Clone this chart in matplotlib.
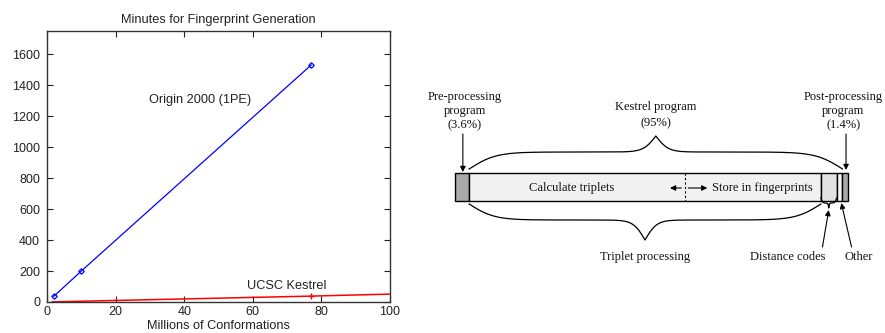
import numpy as np
import matplotlib
matplotlib.use('Agg')
import matplotlib.pyplot as plt

# left chart: minutes vs millions of conformations
conf_origin = [2, 10, 77]
min_origin = [37, 200, 1530]
conf_kestrel = [1.5, 10, 77, 100]
min_kestrel = [1, 5, 38, 51]

xticks = [0, 20, 40, 60, 80, 100]
yticks = [0, 200, 400, 600, 800, 1000, 1200, 1400, 1600]

# right diagram: share of run time (percent of bar)
seg_pct = [3.6, 89.5, 4.0, 1.5, 1.4]
seg_col = ['#a9a9a9', '#f1f1f1', '#e1e1e1', '#f6f6f6', '#a9a9a9']
split_pct = 58.5   # calculate / store boundary

sans = 'Liberation Sans'
serif = 'Liberation Serif'

fig = plt.figure(figsize=(8.85, 3.33), dpi=100)

ax = fig.add_axes([47/885, 31/333, 343/885, 271/333])
ax.plot(conf_origin, min_origin, color='blue', lw=0.9, marker='D', ms=2.8,
        mfc='none', mew=0.9)
ax.plot(conf_kestrel, min_kestrel, color='red', lw=1.1)
ax.plot(conf_kestrel[2:3], min_kestrel[2:3], color='red', marker='+', ms=4, lw=0)
ax.set_xlim(0, 100)
ax.set_ylim(0, 1750)
ax.set_xticks(xticks)
ax.set_yticks(yticks)
ax.tick_params(direction='in', length=4, width=0.8, top=True, right=True,
               labelsize=9, colors='#222222')
ax.tick_params(axis='x', pad=3)
ax.tick_params(axis='y', pad=5)
for lab in ax.get_xticklabels() + ax.get_yticklabels():
    lab.set_family(sans)
for s in ax.spines.values():
    s.set_linewidth(1.0)
    s.set_color('#333333')
ax.set_title('Minutes for Fingerprint Generation', fontsize=9.2, family=sans,
             color='#222222', pad=6)
ax.set_xlabel('Millions of Conformations', fontsize=9.2, family=sans,
              color='#222222', labelpad=1)
ax.text(44.6, 1303, 'Origin 2000 (1PE)', fontsize=9.2, family=sans, ha='center',
        va='center', color='#222222')
ax.text(70, 103, 'UCSC Kestrel', fontsize=9.2, family=sans, ha='center',
        va='center', color='#222222')

# right diagram, x in percent of the bar, y in pixel rows
ax2 = fig.add_axes([455/885, (333-265)/333, 393/885, 185/333])
ax2.set_xlim(0, 100)
ax2.set_ylim(265, 80)
ax2.axis('off')

edges = np.concatenate([[0], np.cumsum(seg_pct)])
ax2.barh(187, seg_pct, left=edges[:-1], height=28, color=seg_col,
         edgecolor='black', linewidth=1.0, clip_on=False)
ax2.plot([split_pct, split_pct], [173, 201], color='black', lw=0.8,
         ls=(0, (2, 2)), clip_on=False)

fs = 9
tk = dict(fontsize=fs, family=serif, ha='center', va='center', color='#111111')


def sig(v):
    return 1.0 / (1.0 + np.exp(-v))


def brace(x0, x1, y_end, y_flat, y_tip, b1=14, b2=30):
    t = np.linspace(0, 1, 200)
    f1 = 2 * (sig(b1 * t) - 0.5)
    f2 = 2 * sig(b2 * (t - 1))
    shape = (y_flat - y_end) * f1 / f1[-1] + (y_tip - y_flat) * (f2 - f2[0]) / (f2[-1] - f2[0])
    xm = (x0 + x1) / 2
    xs = np.concatenate([x0 + (xm - x0) * t, x1 - (x1 - xm) * t[::-1]])
    ys = np.concatenate([y_end + shape, (y_end + shape)[::-1]])
    ax2.plot(xs, ys, color='black', lw=0.9, clip_on=False)


k0 = edges[1]
k1 = edges[4]
brace(k0, k1, 169, 152, 136)
brace(edges[1], edges[2], 204, 220, 240)
brace(edges[2], edges[3], 198, 203, 208, b1=10, b2=20)

ax2.text(2.5, 97, 'Pre-processing', **tk)
ax2.text(2.5, 111, 'program', **tk)
ax2.text(2.5, 125, '(3.6%)', **tk)
ax2.text((k0 + k1) / 2, 107, 'Kestrel program', **tk)
ax2.text((k0 + k1) / 2, 123, '(95%)', **tk)
ax2.text(98.8, 97, 'Post-processing', **tk)
ax2.text(98.8, 111, 'program', **tk)
ax2.text(98.8, 125, '(1.4%)', **tk)

ax2.text(29.8, 188, 'Calculate triplets', **tk)
ax2.text(78.1, 188, 'Store in fingerprints', **tk)
ax2.text((edges[1] + edges[2]) / 2, 257, 'Triplet processing', **tk)
ax2.text(84.7, 257, 'Distance codes', **tk)
ax2.text(102.8, 257, 'Other', **tk)

arr = dict(arrowstyle='-|>', color='black', lw=0.8, mutation_scale=8,
           shrinkA=0, shrinkB=0)
ax2.annotate('', xy=(2.0, 172), xytext=(2.0, 134), arrowprops=arr,
             annotation_clip=False)
ax2.annotate('', xy=(99.5, 170), xytext=(99.5, 134), arrowprops=arr,
             annotation_clip=False)
ax2.annotate('', xy=(54.7, 188), xytext=(57.6, 188), arrowprops=arr,
             annotation_clip=False)
ax2.annotate('', xy=(64.2, 188), xytext=(59.4, 188), arrowprops=arr,
             annotation_clip=False)
ax2.annotate('', xy=(95.1, 210), xytext=(93.5, 247), arrowprops=arr,
             annotation_clip=False)
ax2.annotate('', xy=(98.3, 203), xytext=(100.9, 247), arrowprops=arr,
             annotation_clip=False)

fig.savefig('out.png', dpi=100)
